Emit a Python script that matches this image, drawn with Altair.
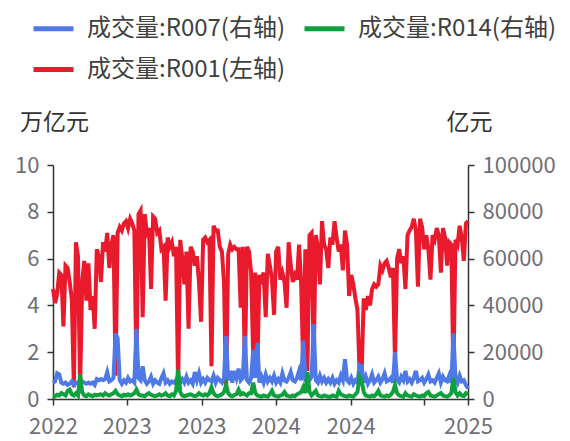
import altair as alt
import pandas as pd

FONT = "Noto Sans CJK SC"

series_names = ["成交量:R007(右轴)", "成交量:R014(右轴)", "成交量:R001(左轴)"]
series_colors = ["#4f79e6", "#0fa13d", "#e81a2c"]

start_date = "2022-09-01"
end_date = "2025-06-16"
tick_dates = ["2022-09-01", "2023-03-01", "2023-09-01", "2024-03-01",
              "2024-09-01", "2025-03-01", "2025-06-16"]
tick_labels = ["2022", "2023", "2023", "2024", "2024", "", "2025"]
left_ticks = [0, 2, 4, 6, 8, 10]
right_ticks = [0, 20000, 40000, 60000, 80000, 100000]

# 成交量:R001 (万亿元, left axis)
r001 = [
    4.7, 4.1, 4.5, 5.4, 5.3, 3.1, 5.7, 5.6, 5.0, 4.3,
    0.5, 6.7, 6.1, 0.5, 5.0, 5.9, 4.2, 5.8, 3.8, 4.4,
    3.0, 6.4, 6.1, 5.0, 6.7, 6.3, 7.1, 5.6, 6.6, 7.0,
    1.0, 7.1, 7.35, 7.2, 7.5, 7.6, 7.3, 7.7, 7.5, 7.2,
    1.2, 7.9, 8.05,
    3.5, 7.9, 7.1, 7.3, 4.7, 7.8, 7.7, 7.1, 7.2, 6.4,
    6.5, 4.2, 6.9, 6.5, 6.7, 6.1, 6.5, 0.5, 6.8, 6.0,
    4.9, 6.3, 3.0, 6.5, 6.3, 5.7, 6.1, 5.0, 3.3, 6.8,
    6.9, 6.7, 6.8, 1.4, 7.4, 7.2, 7.2, 6.5, 6.3, 5.0,
    0.3, 6.2, 6.6, 6.4, 6.5, 6.4,
    6.4, 3.9, 6.5, 1.2, 6.5, 6.3, 5.4, 1.8, 5.4, 1.4,
    5.3, 5.1, 5.4, 3.5, 6.2, 5.7, 5.1, 3.6, 6.3, 6.5,
    5.1, 5.4, 5.0, 3.9, 6.7, 5.7, 5.0, 5.3, 5.1, 6.6,
    4.9, 1.3, 6.4, 1.2, 7.0, 7.1, 1.6, 7.0, 6.5, 4.9,
    7.6, 6.6, 6.4, 5.6,
    6.9, 6.6, 7.6, 6.9, 6.3, 6.6, 5.5, 7.2, 6.6, 4.4,
    5.3, 4.9, 4.3, 3.8, 1.2, 1.1, 4.3, 3.8, 4.4, 4.0,
    4.7, 4.9, 4.8, 4.9, 5.7, 5.5, 5.8, 5.9, 5.6, 5.2,
    5.6, 1.6, 6.0, 6.4, 5.8, 6.1, 4.7, 7.0, 7.2, 7.35,
    7.7, 7.2, 4.8, 7.7, 7.35, 6.4, 7.0, 6.4, 5.1, 7.0,
    6.8, 7.3, 7.0, 5.4, 7.3, 6.9, 5.7, 6.7, 6.6, 1.0,
    6.8, 6.6, 7.4, 6.9, 5.9, 7.5, 7.6,
]

# 成交量:R007 (亿元, right axis)
r007 = [
    7000, 7500, 11000, 10500, 7000, 6500, 7000, 6000, 6500, 7500,
    6000, 7000, 6500, 8000, 7500, 7000, 6500, 7000, 6500, 7000, 6000,
    8500, 8000, 8500, 8000, 8500, 11500, 7500, 8000, 9000,
    28000, 26000,
    8000, 6500, 8000, 7000, 9000, 7500, 8000, 7000,
    30000,
    9000, 8000,
    14000,
    8000, 6500, 7500, 9500, 6500, 8000, 7000, 6500, 9000, 11000,
    7000, 8000, 6500, 7500, 7000, 8000,
    10000,
    7000, 8500, 7000, 9500, 7000, 8000, 6500, 11500, 8000, 11000,
    7000, 8500, 7000, 9000, 8000, 7500, 10000, 7000, 9000, 8000, 7000, 9000,
    27000,
    8000, 12000, 7000, 12000, 9000,
    13000, 8000, 9000, 27000, 8000, 7000, 9000, 21000, 9000, 24000, 7000,
    9500, 7000, 10500, 7500, 9000, 7500, 10000, 7000, 8500, 7000,
    11000, 8000, 7500, 9000, 11500, 8000, 7500, 9000, 12000, 8000,
    25000, 9000, 10000, 8000, 9500, 32000, 8000, 7000, 10000, 7500, 9000, 7000, 8500,
    7000, 9000, 6500, 8000, 7000, 10000, 8000, 17000, 8000, 7000, 9000, 6500, 8000, 7000,
    14500, 14000,
    7000, 9500, 6500, 8000, 10500, 7000, 8000, 9500, 7000, 8500, 11000, 7500, 8000, 9000, 7000,
    20000,
    8000, 7000, 9500, 8000, 12000, 7500, 8500, 7000, 9000, 12000,
    7500, 8000, 9000, 7000, 8500, 10500, 7500, 8000, 7000, 9000,
    11000, 7000, 9500, 8000, 7500, 10000, 7000,
    28000, 9000,
    7000, 10000, 7500, 8000, 6000, 4500,
]

# 成交量:R014 (亿元, right axis)
r014 = [
    1500, 1200, 1800, 1500, 2500, 2000, 1500, 3500, 4000, 2000,
    1500, 2500, 1500, 10500, 3000, 1500, 1200, 2000, 1500, 1200, 1800,
    1500, 1800, 2000, 1500, 2500, 1800, 1500, 2000, 2500, 3500,
    2000, 1500, 1200, 1800, 1500, 2000, 1500, 1800, 2500,
    4000, 2000, 1500,
    1500, 1200, 2000, 2500, 1800, 1500, 1200, 1500, 2000, 1500,
    1800, 2500, 1500, 1200, 2000, 1500, 3500,
    12500,
    3000, 1500, 1200, 1500, 1800, 2000, 1500, 1200, 1500, 2500,
    1800, 1500, 2000, 1500, 2500, 5000, 2500, 1500, 1200, 1500, 2000, 3000,
    6000, 2500,
    1500, 1200, 1800, 2000, 4000, 2000, 2500, 2000, 1500, 2500, 2500, 7000, 2500, 1500, 1200,
    1000, 1500, 1200, 1000, 2000, 3500, 1500, 1200, 1000, 1500,
    1800, 3000, 1500, 1200, 1000, 1500, 1200, 2000, 2500, 3000,
    5000, 2500, 11500, 3000, 1500, 2500, 3500, 1500, 1200, 1000, 1500, 1200, 1000,
    1000, 1500, 1200, 1000, 3500, 2000, 1500, 1200, 1000, 1500, 1200, 1000, 2000, 3000,
    9500, 8000,
    3000, 1500, 1200, 1000, 1500, 1200, 2000, 3500, 1500, 1200, 1000, 1500, 1200, 1800, 3000,
    6000,
    2500, 1500, 1200, 1000, 2500, 1500, 1200, 1000, 2000, 1500,
    1200, 1000, 1500, 1200, 2500, 3000, 1500, 1200, 1000, 1500,
    2000, 2500, 1500, 1200, 1000, 1500, 2500,
    9000, 3000,
    1500, 2500, 1500, 1200, 2500, 2000,
]

assert len(r001) == len(r007) == len(r014), (len(r001), len(r007), len(r014))

n = len(r001)
dates = pd.date_range(start_date, end_date, periods=n).strftime("%Y-%m-%dT%H:%M:%SZ")

df = pd.concat([
    pd.DataFrame({"date": dates, "value": r007, "series": series_names[0]}),
    pd.DataFrame({"date": dates, "value": r014, "series": series_names[1]}),
    pd.DataFrame({"date": dates, "value": r001, "series": series_names[2]}),
], ignore_index=True)


def ms(d):
    return int(pd.Timestamp(d, tz="UTC").value // 10**6)


tick_ms = [ms(d) for d in tick_dates]
keys = ",".join("'" + d + "'" for d in tick_dates)
labs = ",".join("'" + s + "'" for s in tick_labels)
label_expr = f"[{labs}][indexof([{keys}], utcFormat(datum.value, '%Y-%m-%d'))]"

x_enc = alt.X(
    "date:T",
    scale=alt.Scale(type="utc", domain=[ms(start_date), ms(end_date)]),
    axis=alt.Axis(values=tick_ms, labelExpr=label_expr, title=None,
                  labelPadding=11, labelOverlap=False, labelFlush=False),
)

legend = alt.Legend(
    title=None, orient="none", legendX=-22, legendY=-159, columns=2,
    direction="horizontal",
    symbolType="stroke", symbolSize=1600, symbolStrokeWidth=5,
    labelFontSize=24, labelColor="#404040", labelFont=FONT, labelLimit=400,
    columnPadding=8, rowPadding=6, labelOffset=11, padding=0,
)
color_enc = alt.Color("series:N",
                      scale=alt.Scale(domain=series_names, range=series_colors),
                      legend=legend)

base = alt.Chart(df)

red = base.transform_filter(alt.datum.series == series_names[2]).mark_line(
    strokeWidth=4).encode(
    x=x_enc,
    y=alt.Y("value:Q", scale=alt.Scale(domain=[0, 10], nice=False),
            axis=alt.Axis(orient="left", values=left_ticks, title="万亿元",
                          titleAngle=0, titleX=1, titleY=-43, titleAlign="center",
                          titleBaseline="middle")),
    color=color_enc,
)

blue = base.transform_filter(alt.datum.series == series_names[0]).mark_line(
    strokeWidth=4).encode(
    x=x_enc,
    y=alt.Y("value:Q", scale=alt.Scale(domain=[0, 100000], nice=False),
            axis=alt.Axis(orient="right", values=right_ticks, format="d", title="亿元",
                          titleAngle=0, titleX=1, titleY=-43, titleAlign="center",
                          titleBaseline="middle")),
    color=color_enc,
)

green = base.transform_filter(alt.datum.series == series_names[1]).mark_line(
    strokeWidth=4).encode(
    x=x_enc,
    y=alt.Y("value:Q", scale=alt.Scale(domain=[0, 100000], nice=False), axis=None),
    color=color_enc,
)

chart = alt.layer(red, blue, green).resolve_scale(y="independent").properties(
    width=415, height=234,
    padding={"left": 45, "top": 157, "right": 94, "bottom": 42},
    autosize=alt.AutoSizeParams(type="none"),
).configure_view(stroke=None).configure_axis(
    grid=False, domainColor="#333333", domainWidth=1.5, tickColor="#333333",
    tickWidth=1.5, tickSize=6, labelColor="#6e6e78", labelFontSize=22,
    labelFont=FONT, labelPadding=8, titleFont=FONT, titleFontSize=23,
    titleFontWeight="normal", titleColor="#333333",
)

chart.save("out.html", embed_options={"renderer": "svg", "actions": False})
